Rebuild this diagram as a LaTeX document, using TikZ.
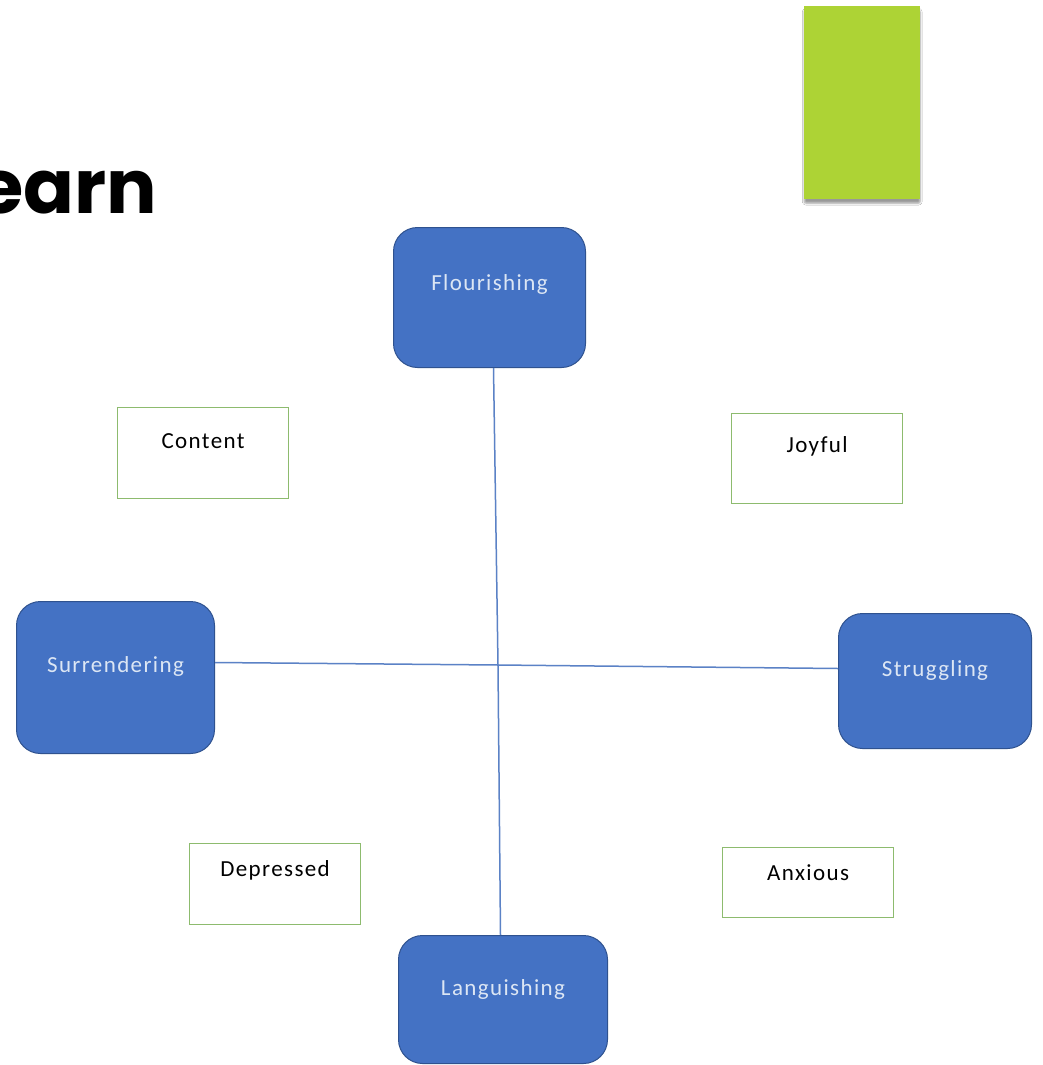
\documentclass[tikz,border=0pt]{standalone}
\usepackage{fontspec}
\setmainfont{Carlito}
\newfontfamily\headfont{Poppins}
\newfontfamily\boxfont{Carlito}[LetterSpace=6]
\usetikzlibrary{shadows.blur}
\definecolor{boxblue}{HTML}{4472C4}
\definecolor{boxedge}{HTML}{2F528F}
\definecolor{boxtext}{HTML}{DCE6F4}
\definecolor{leafgreen}{HTML}{ADD335}
\definecolor{tagedge}{HTML}{8DBB6E}
\definecolor{axis}{HTML}{5B82C6}
\tikzset{
  state/.style={draw=boxedge, line width=1pt, fill=boxblue, rounded corners=24pt,
    text=boxtext, inner sep=0pt, align=center, anchor=north west,
    font=\boxfont\fontsize{23}{27}\selectfont},
  tag/.style={draw=tagedge, line width=1.2pt, fill=white, inner sep=0pt,
    align=center, anchor=north west, text=black,
    font=\boxfont\fontsize{23}{27}\selectfont},
  axisline/.style={draw=axis, line width=1.5pt}
}
\begin{document}
\begin{tikzpicture}[x=1pt,y=-1pt]
\useasboundingbox (0,0) rectangle (1042,1065);
\fill[white] (0,0) rectangle (1042,1065);

% heading fragment and accent bar
\node[anchor=base east, inner sep=0pt, font=\headfont\bfseries\fontsize{75}{80}\selectfont] (head) at (157,213) {earn};
\node[fill=leafgreen, minimum width=116pt, minimum height=193pt, inner sep=0pt, anchor=north west,
  blur shadow={shadow xshift=0pt, shadow yshift=-4pt, shadow blur steps=6, shadow blur extra rounding=2pt}] (bar) at (804,6) {};

% four states
\node[state, text width=192pt, text height=63pt, text depth=77pt] (flour) at (393,227) {Flourishing};
\node[state, text width=209pt, text height=60pt, text depth=68pt] (lang) at (398,935) {Languishing};
\node[state, text width=198pt, text height=71pt, text depth=81pt] (surr) at (16,601) {Surrendering};
\node[state, text width=193pt, text height=63pt, text depth=72pt] (strug) at (838,613) {Struggling};

% quadrant labels
\node[tag, text width=171pt, text height=41pt, text depth=50pt] (content) at (117,407) {Content};
\node[tag, text width=171pt, text height=39pt, text depth=51pt] (joy) at (731,413) {Joyful};
\node[tag, text width=171pt, text height=33pt, text depth=48pt] (dep) at (189,843) {Depressed};
\node[tag, text width=171pt, text height=33pt, text depth=37pt] (anx) at (722,847) {Anxious};

% axes
\coordinate (mid) at (498,665);
\draw[axisline] ([xshift=4pt]flour.south) -- (mid) -- ([xshift=-2.5pt]lang.north);
\draw[axisline] ([yshift=15pt]surr.east) -- (mid) -- ([yshift=12.5pt]strug.west);
\end{tikzpicture}
\end{document}
